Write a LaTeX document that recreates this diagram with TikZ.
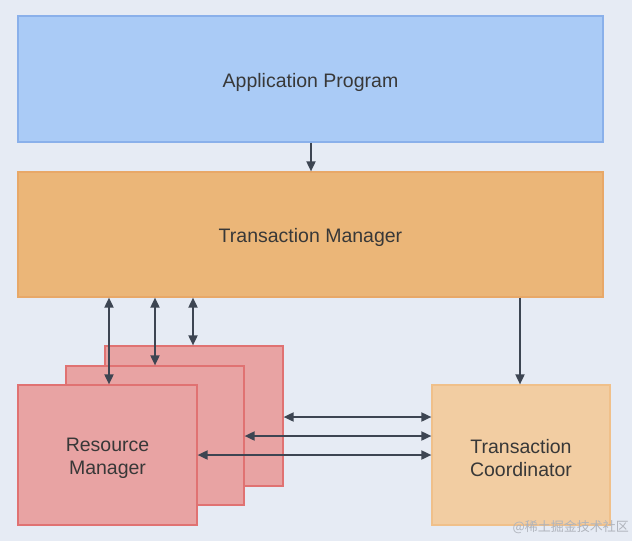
\documentclass[tikz,border=0pt]{standalone}
\usepackage{fontspec}
\setmainfont{Liberation Sans}
\newfontfamily\cjk{Noto Sans CJK SC}
\usetikzlibrary{arrows.meta}
\definecolor{bg}{HTML}{E6EBF4}
\definecolor{apfill}{HTML}{AACBF6}
\definecolor{apline}{HTML}{8AB0EA}
\definecolor{tmfill}{HTML}{EBB678}
\definecolor{tmline}{HTML}{E8A868}
\definecolor{rmfill}{HTML}{E8A3A3}
\definecolor{rmline}{HTML}{E07272}
\definecolor{tcfill}{HTML}{F2CDA2}
\definecolor{tcline}{HTML}{F0C08A}
\definecolor{arr}{HTML}{3D4552}
\definecolor{txt}{HTML}{383838}
\definecolor{wm}{HTML}{B0B4BC}
\tikzset{
  box/.style={draw, line width=1.2pt, inner sep=0pt},
  lbl/.style={text=txt, font=\fontsize{19.5}{23}\selectfont, align=center, inner sep=0pt, yshift=-3pt},
  conn/.style={draw=arr, line width=1.8pt, -{Triangle[length=10pt,width=9pt]}},
  bconn/.style={draw=arr, line width=1.8pt, {Triangle[length=10pt,width=9pt]}-{Triangle[length=10pt,width=9pt]}},
}
\begin{document}
\begin{tikzpicture}[x=1pt,y=-1pt]
\fill[bg] (0,0) rectangle (632,541);
\useasboundingbox (0,0) rectangle (632,541);
% boxes
\node[box, fill=apfill, draw=apline, minimum width=585pt, minimum height=126pt,
  label={[lbl]center:Application Program}] (ap) at (310.5,79) {};
\node[box, fill=tmfill, draw=tmline, minimum width=585pt, minimum height=125pt,
  label={[lbl]center:Transaction Manager}] (tm) at (310.5,234.5) {};
\node[box, fill=rmfill, draw=rmline, minimum width=178pt, minimum height=140pt] (rm3) at (194,416) {};
\node[box, fill=rmfill, draw=rmline, minimum width=178pt, minimum height=139pt] (rm2) at (155,435.5) {};
\node[box, fill=rmfill, draw=rmline, minimum width=179pt, minimum height=140pt,
  label={[lbl]center:Resource\\Manager}] (rm1) at (107.5,455) {};
\node[box, fill=tcfill, draw=tcline, minimum width=178pt, minimum height=140pt,
  label={[lbl]center:Transaction\\Coordinator}] (tc) at (521,455) {};
% connectors
\draw[conn] (ap.south -| 311,0) -- (tm.north -| 311,0);
\draw[conn] (tm.south -| 520,0) -- (tc.north -| 520,0);
\draw[bconn] (tm.south -| 109,0) -- (rm1.north -| 109,0);
\draw[bconn] (tm.south -| 155,0) -- (rm2.north -| 155,0);
\draw[bconn] (tm.south -| 193,0) -- (rm3.north -| 193,0);
\draw[bconn] (rm3.east |- 0,417) -- (tc.west |- 0,417);
\draw[bconn] (rm2.east |- 0,436) -- (tc.west |- 0,436);
\draw[bconn] (rm1.east |- 0,455) -- (tc.west |- 0,455);
% watermark
\node[text=wm, font=\cjk\fontsize{13}{15}\selectfont, anchor=east, inner sep=0pt] (wmk) at (629,527) {@稀土掘金技术社区};
\end{tikzpicture}
\end{document}
